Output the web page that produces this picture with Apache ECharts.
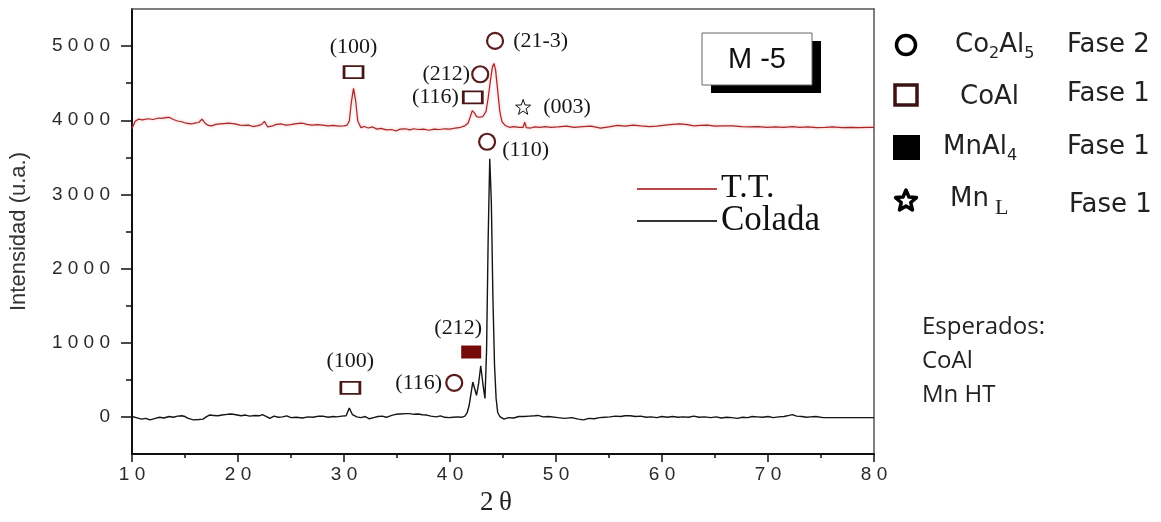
<!DOCTYPE html>
<html>
<head>
<meta charset="utf-8">
<title>M-5 DRX</title>
<script src="https://cdn.jsdelivr.net/npm/echarts@6.0.0/dist/echarts.min.js"></script>
<style>
  html, body { margin: 0; padding: 0; background: #fff; }
  #chart { width: 1161px; height: 522px; }
</style>
</head>
<body>
<div id="chart"></div>
<script>
// Diffractogram, treated sample (T.T.)
const ttTheta = [10.0, 10.3, 10.6, 11.0, 11.5, 12.0, 12.5, 12.8, 13.2, 13.5, 13.9, 14.3, 14.7, 15.1, 15.6, 16.0, 16.3, 16.6, 16.9, 17.2,
  17.5, 17.9, 18.3, 18.7, 19.1, 19.7, 20.2, 20.6, 21.0, 21.4, 21.8, 22.2, 22.5, 22.8, 23.2, 23.6, 24.1, 24.5, 25.0, 25.5,
  26.1, 26.5, 27.0, 27.5, 28.0, 28.5, 29.0, 29.5, 30.0, 30.3, 30.5, 30.7, 30.9, 31.1, 31.3, 31.6, 31.9, 32.3, 32.7, 33.1,
  33.5, 34.0, 34.5, 34.9, 35.3, 35.8, 36.2, 36.6, 37.0, 37.5, 38.0, 38.5, 39.0, 39.5, 40.0, 40.5, 41.0, 41.4, 41.7, 41.9,
  42.1, 42.3, 42.5, 42.8, 43.1, 43.4, 43.6, 43.8, 44.0, 44.15, 44.3, 44.5, 44.7, 44.9, 45.2, 45.6, 46.0, 46.5, 46.9, 47.05,
  47.2, 47.6, 48.0, 48.5, 49.0, 49.5, 50.2, 51.0, 51.7, 52.5, 53.3, 54.2, 55.0, 55.8, 56.5, 57.3, 58.0, 58.8, 59.5, 60.3,
  61.0, 61.7, 62.4, 63.0, 63.6, 64.3, 65.0, 65.8, 66.7, 67.5, 68.3, 69.1, 69.9, 70.7, 71.5, 72.3, 73.0, 73.8, 74.6, 75.4,
  76.1, 77.0, 77.8, 78.6, 79.4, 80.0];
const ttCounts = [3890, 3985, 4015, 4005, 4020, 4010, 4030, 4025, 4035, 4040, 4010, 3990, 3980, 3960, 3950, 3965, 3970, 4015, 3960, 3930,
  3925, 3945, 3950, 3955, 3960, 3950, 3935, 3930, 3935, 3915, 3925, 3940, 3985, 3910, 3920, 3945, 3950, 3935, 3940, 3955,
  3960, 3945, 3935, 3940, 3935, 3925, 3930, 3920, 3925, 3935, 3990, 4250, 4430, 4260, 3990, 3900, 3915, 3895, 3910, 3880,
  3890, 3870, 3875, 3855, 3880, 3885, 3870, 3885, 3875, 3880, 3865, 3880, 3875, 3885, 3880, 3895, 3905, 3925, 3960, 4040,
  4130, 4100, 4050, 4040, 4050, 4120, 4300, 4520, 4720, 4765, 4680, 4400, 4120, 3980, 3930, 3905, 3915, 3905, 3905, 3975,
  3900, 3895, 3910, 3905, 3915, 3905, 3910, 3920, 3905, 3915, 3920, 3895, 3910, 3930, 3920, 3935, 3925, 3915, 3920, 3935,
  3945, 3950, 3940, 3925, 3930, 3935, 3920, 3925, 3925, 3915, 3910, 3915, 3905, 3910, 3905, 3915, 3905, 3910, 3900, 3905,
  3910, 3900, 3905, 3900, 3905, 3905];

// Diffractogram, as-cast sample (Colada)
const coladaTheta = [10.0, 10.4, 10.9, 11.3, 11.7, 12.2, 12.6, 13.0, 13.5, 13.9, 14.3, 14.7, 15.0, 15.3, 15.8, 16.3, 16.7, 17.0, 17.3, 17.7,
  18.1, 18.5, 19.0, 19.4, 19.8, 20.3, 20.7, 21.1, 21.6, 22.0, 22.3, 22.7, 23.0, 23.4, 23.8, 24.2, 24.6, 25.0, 25.5, 26.1,
  26.6, 27.1, 27.6, 28.0, 28.5, 29.0, 29.3, 29.8, 30.2, 30.5, 30.8, 31.2, 31.6, 32.0, 32.4, 32.8, 33.2, 33.6, 34.0, 34.5,
  34.9, 35.3, 35.8, 36.2, 36.6, 37.0, 37.4, 37.8, 38.2, 38.7, 39.1, 39.5, 39.9, 40.3, 40.7, 41.1, 41.4, 41.6, 41.8, 42.0,
  42.15, 42.35, 42.5, 42.7, 42.9, 43.1, 43.3, 43.45, 43.6, 43.75, 43.9, 44.05, 44.2, 44.35, 44.5, 44.7, 45.1, 45.5, 46.0, 46.5,
  47.0, 47.5, 48.0, 48.3, 48.8, 49.3, 50.2, 50.8, 51.5, 52.1, 52.6, 53.1, 53.6, 54.1, 54.6, 55.1, 55.6, 56.1, 56.5, 57.0,
  57.5, 58.0, 58.5, 59.0, 59.5, 60.0, 60.5, 61.0, 61.5, 62.0, 62.5, 63.0, 63.5, 64.0, 64.6, 65.1, 65.6, 66.1, 66.6, 67.1,
  67.6, 68.1, 68.5, 69.0, 69.5, 70.0, 70.5, 71.0, 71.5, 72.0, 72.3, 72.7, 73.2, 73.6, 74.0, 74.5, 75.2, 80.0];
const coladaCounts = [5, -10, -30, -20, -40, -20, -5, -15, 5, -5, 10, 15, 5, -20, -40, -35, -30, 0, 25, 20,
  15, 25, 35, 40, 30, 15, 25, 10, 20, 15, 30, 5, -20, 10, -5, 0, 15, -10, -5, -15,
  0, -5, 10, 10, -5, 5, 0, 10, 15, 120, 30, 0, -10, 5, -25, -10, 5, 10, -5, 20,
  35, 40, 45, 45, 35, 40, 30, 25, 10, 0, 15, -5, -10, -5, 0, -5, 10, 50, 150, 330,
  470, 370, 290, 450, 690, 450, 250, 900, 2400, 3480, 2900, 1600, 700, 250, 60, 5, -30, -10, -15, 5,
  5, 10, 15, 20, 0, 5, -10, -20, -10, -30, -40, -20, -25, -10, -5, 0, 10, 5, 15, 15,
  5, 10, -5, 0, -10, 5, -5, 5, -5, 0, -5, 10, -5, 0, -10, 0, -15, -5, -10, -20,
  -5, -10, 5, 0, -5, 5, -10, 0, 5, 20, 30, 10, 5, -5, 0, 5, -10, -10];

// Indexed reflections
const annoText = ['(100)', '(21-3)', '(212)', '(116)', '(003)', '(110)', '(100)', '(116)', '(212)'];
const annoTheta = [30.9, 44.25, 42.85, 42.15, 46.9, 43.5, 30.6, 40.4, 42.0];
const annoCounts = [4650, 5070, 4620, 4310, 4180, 3710, 390, 460, 875];
const annoPhase = ['CoAl', 'Co2Al5', 'Co2Al5', 'CoAl', 'MnL', 'Co2Al5', 'CoAl', 'Co2Al5', 'MnAl4'];

// Axis tick values
const yMajorTicks = [0, 1000, 2000, 3000, 4000, 5000];
const yMinorTicks = [500, 1500, 2500, 3500, 4500];

const zip = (xs, ys) => xs.map((x, i) => [x, ys[i]]);
const spaced = v => String(v).split('').join(' ');

const STAR = 'path://M0,-10L2.35,-3.24L9.51,-3.09L3.8,1.24L5.88,8.09L0,4L-5.88,8.09L-3.8,1.24L-9.51,-3.09L-2.35,-3.24Z';
const phaseSymbol = {
  Co2Al5: { symbol: 'circle', symbolSize: 16, itemStyle: { color: '#fff', borderColor: '#5a1c1c', borderWidth: 2.2, opacity: 1 } },
  CoAl: { symbol: 'rect', symbolSize: [19, 12], itemStyle: { color: '#fff', borderColor: '#4a1616', borderWidth: 2.2, opacity: 1 } },
  MnAl4: { symbol: 'rect', symbolSize: [20, 13], itemStyle: { color: '#760a0a', borderWidth: 0, opacity: 1 } },
  MnL: { symbol: STAR, symbolSize: 15, itemStyle: { color: '#fff', borderColor: '#111', borderWidth: 1, opacity: 1 } }
};
// label placement for each reflection, in the order of annoText
const labelPlacement = [
  { position: 'top', distance: 7 },
  { position: 'right', distance: 9 },
  { position: 'left', distance: 1 },
  { position: 'left', distance: 3 },
  { position: 'right', distance: 12 },
  { position: 'right', distance: 6, offset: [0, 8] },
  { position: 'top', distance: 9 },
  { position: 'left', distance: 3 },
  { position: 'top', distance: 6, offset: [-13, 0] }
];

const annoData = annoText.map((t, i) => {
  const s = phaseSymbol[annoPhase[i]];
  return {
    value: [annoTheta[i], annoCounts[i]],
    symbol: s.symbol,
    symbolSize: s.symbolSize,
    itemStyle: s.itemStyle,
    label: Object.assign({ show: true, formatter: t }, labelPlacement[i])
  };
});

const chart = echarts.init(document.getElementById('chart'), null, { renderer: 'canvas' });

const axisLabelFont = { fontFamily: '"Liberation Sans", Arial, sans-serif', fontSize: 19, color: '#2a2a2a' };

chart.setOption({
  animation: false,
  backgroundColor: '#fff',
  grid: { left: 130, right: 287, top: 9, bottom: 68, containLabel: false },
  xAxis: [{
    type: 'value', min: 10, max: 80, interval: 10,
    axisLine: { show: true, onZero: false, lineStyle: { color: '#111', width: 2 } },
    axisTick: { show: true, inside: false, length: 8, lineStyle: { color: '#111', width: 1.5 } },
    minorTick: { show: true, splitNumber: 2, length: 4, lineStyle: { color: '#111', width: 1.5 } },
    splitLine: { show: false },
    axisLabel: Object.assign({ margin: 11, formatter: spaced }, axisLabelFont),
    name: '2\u2009θ', nameLocation: 'middle', nameGap: 35,
    nameTextStyle: { fontFamily: '"Liberation Serif", "Times New Roman", serif', fontSize: 27, color: '#222', padding: [0, 14, 0, 0] }
  }, {
    type: 'value', position: 'top', min: 10, max: 80,
    axisLine: { show: true, onZero: false, lineStyle: { color: '#555', width: 1.5 } },
    axisTick: { show: false }, axisLabel: { show: false }, splitLine: { show: false }
  }],
  yAxis: [{
    type: 'value', min: -500, max: 5500, interval: 500,
    axisLine: { show: true, onZero: false, lineStyle: { color: '#111', width: 2 } },
    axisTick: { show: true, inside: false, length: 11, customValues: yMajorTicks, lineStyle: { color: '#111', width: 1.5 } },
    splitLine: { show: false },
    axisLabel: Object.assign({
      margin: 22, customValues: yMajorTicks,
      formatter: v => (v % 1000 === 0 && v >= 0) ? spaced(v) : ''
    }, axisLabelFont),
    name: 'Intensidad (u.a.)', nameLocation: 'middle', nameGap: 102,
    nameTextStyle: { fontFamily: '"Liberation Sans", Arial, sans-serif', fontSize: 22, color: '#333' }
  }, {
    type: 'value', position: 'left', min: -500, max: 5500, interval: 500,
    axisLine: { show: false },
    axisTick: { show: true, inside: false, length: 6, customValues: yMinorTicks, lineStyle: { color: '#111', width: 1.5 } },
    axisLabel: { show: false }, splitLine: { show: false }
  }, {
    type: 'value', position: 'right', min: -500, max: 5500,
    axisLine: { show: true, onZero: false, lineStyle: { color: '#555', width: 1.5 } },
    axisTick: { show: false }, axisLabel: { show: false }, splitLine: { show: false }
  }],
  series: [{
    name: 'T.T.', type: 'line', data: zip(ttTheta, ttCounts),
    showSymbol: false, symbol: 'none', z: 3,
    lineStyle: { color: '#a8282a', width: 1.2, shadowColor: 'rgba(220,90,90,0.55)', shadowBlur: 3 }
  }, {
    name: 'Colada', type: 'line', data: zip(coladaTheta, coladaCounts),
    showSymbol: false, symbol: 'none', z: 3,
    lineStyle: { color: '#151515', width: 1.4 }
  }, {
    name: 'reflexiones', type: 'scatter', data: annoData, z: 5,
    itemStyle: { opacity: 1 },
    label: { fontFamily: '"Liberation Serif", "Times New Roman", serif', fontSize: 22, color: '#161616' }
  }],
  graphic: [
    // sample tag
    { type: 'rect', shape: { x: 711, y: 41, width: 110, height: 52 }, style: { fill: '#000' }, z: 10 },
    { type: 'rect', shape: { x: 702, y: 33, width: 110, height: 52 }, style: { fill: '#fff', stroke: '#666', lineWidth: 1 }, z: 11 },
    { type: 'text', x: 757, y: 60, z: 12,
      style: { text: 'M -5', font: '29px "Liberation Sans", Arial, sans-serif', fill: '#111', align: 'center', verticalAlign: 'middle', textAlign: 'center', textVerticalAlign: 'middle' } },

    // series key
    { type: 'line', shape: { x1: 637, y1: 189, x2: 717, y2: 189 }, style: { stroke: '#b84848', lineWidth: 2 }, z: 10 },
    { type: 'line', shape: { x1: 637, y1: 221, x2: 717, y2: 221 }, style: { stroke: '#333', lineWidth: 2 }, z: 10 },
    { type: 'text', x: 721, y: 188, z: 10,
      style: { text: 'T.T.', font: '34px "Liberation Serif", "Times New Roman", serif', fill: '#111', verticalAlign: 'middle', textVerticalAlign: 'middle' } },
    { type: 'text', x: 721, y: 221, z: 10,
      style: { text: 'Colada', font: '35px "Liberation Serif", "Times New Roman", serif', fill: '#111', verticalAlign: 'middle', textVerticalAlign: 'middle' } },

    // phase key
    { type: 'circle', shape: { cx: 906, cy: 45, r: 9.5 }, style: { fill: '#fff', stroke: '#000', lineWidth: 3.5 } },
    { type: 'rect', shape: { x: 895, y: 85, width: 22, height: 20 }, style: { fill: '#fff', stroke: '#3a1414', lineWidth: 3.5 } },
    { type: 'rect', shape: { x: 893, y: 135, width: 27, height: 25 }, style: { fill: '#000' } },
    { type: 'polygon', shape: { points: (() => {
        const pts = [];
        for (let k = 0; k < 10; k++) {
          const r = k % 2 === 0 ? 11 : 5;
          const a = -Math.PI / 2 + k * Math.PI / 5;
          pts.push([906 + r * Math.cos(a), 201 + r * Math.sin(a)]);
        }
        return pts;
      })() }, style: { fill: '#fff', stroke: '#000', lineWidth: 3.5, lineJoin: 'round' } },

    { type: 'text', x: 955, y: 45,
      style: { text: '{n|Co}{s|2}{n|Al}{s|5}', verticalAlign: 'middle', textVerticalAlign: 'middle',
        rich: { n: { fontFamily: '"DejaVu Sans", sans-serif', fontSize: 26, lineHeight: 34, verticalAlign: 'middle', fill: '#222', color: '#222' },
                s: { fontFamily: '"DejaVu Sans", sans-serif', fontSize: 16, lineHeight: 16, verticalAlign: 'bottom', fill: '#222', color: '#222' } } } },
    { type: 'text', x: 960, y: 97,
      style: { text: 'CoAl', font: '26px "DejaVu Sans", sans-serif', fill: '#222', verticalAlign: 'middle', textVerticalAlign: 'middle' } },
    { type: 'text', x: 943, y: 147,
      style: { text: '{n|MnAl}{s|4}', verticalAlign: 'middle', textVerticalAlign: 'middle',
        rich: { n: { fontFamily: '"DejaVu Sans", sans-serif', fontSize: 26, lineHeight: 34, verticalAlign: 'middle', fill: '#222', color: '#222' },
                s: { fontFamily: '"DejaVu Sans", sans-serif', fontSize: 16, lineHeight: 16, verticalAlign: 'bottom', fill: '#222', color: '#222' } } } },
    { type: 'text', x: 950, y: 199,
      style: { text: '{n|Mn}{l|L}', verticalAlign: 'middle', textVerticalAlign: 'middle',
        rich: { n: { fontFamily: '"DejaVu Sans", sans-serif', fontSize: 26, lineHeight: 40, verticalAlign: 'middle', fill: '#222', color: '#222' },
                l: { fontFamily: '"Liberation Serif", serif', fontSize: 22, lineHeight: 22, verticalAlign: 'bottom', padding: [0, 0, 0, 6], fill: '#222', color: '#222' } } } },
    { type: 'text', x: 1067, y: 45,
      style: { text: 'Fase 2', font: '26px "DejaVu Sans", sans-serif', fill: '#222', verticalAlign: 'middle', textVerticalAlign: 'middle' } },
    { type: 'text', x: 1067, y: 94,
      style: { text: 'Fase 1', font: '26px "DejaVu Sans", sans-serif', fill: '#222', verticalAlign: 'middle', textVerticalAlign: 'middle' } },
    { type: 'text', x: 1067, y: 147,
      style: { text: 'Fase 1', font: '26px "DejaVu Sans", sans-serif', fill: '#222', verticalAlign: 'middle', textVerticalAlign: 'middle' } },
    { type: 'text', x: 1069, y: 205,
      style: { text: 'Fase 1', font: '26px "DejaVu Sans", sans-serif', fill: '#222', verticalAlign: 'middle', textVerticalAlign: 'middle' } },

    // expected phases
    { type: 'text', x: 922, y: 310,
      style: { text: 'Esperados:\nCoAl\nMn HT', font: '24px "Open Sans", sans-serif', lineHeight: 34, fill: '#222', verticalAlign: 'top', textVerticalAlign: 'top' } }
  ]
});
</script>
</body>
</html>
